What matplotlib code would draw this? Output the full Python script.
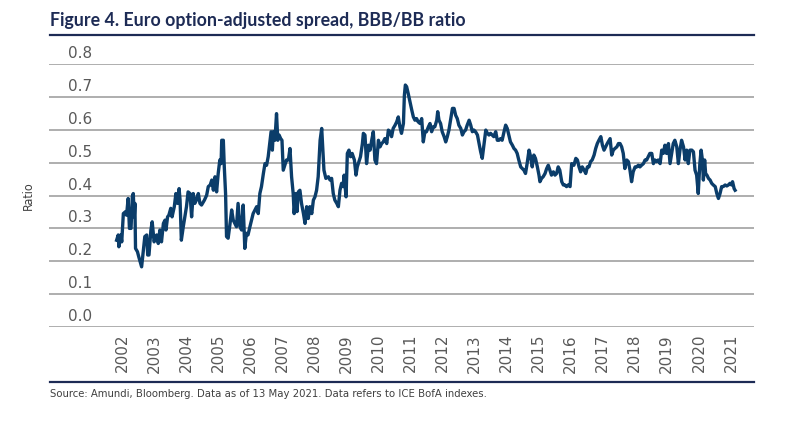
import matplotlib
matplotlib.use("Agg")
import matplotlib.pyplot as plt

# Euro OAS ratio BBB/BB (decimal years)
dates = [
    2002.00, 2002.05, 2002.07, 2002.13, 2002.16, 2002.21, 2002.28, 2002.31, 2002.36, 2002.40,
    2002.45, 2002.49, 2002.52, 2002.55, 2002.57, 2002.59, 2002.65, 2002.69, 2002.78, 2002.83,
    2002.88, 2002.94, 2002.97, 2003.01, 2003.07, 2003.11, 2003.17, 2003.25, 2003.30, 2003.35,
    2003.40, 2003.46, 2003.51, 2003.54, 2003.59, 2003.63, 2003.69, 2003.73, 2003.80, 2003.85,
    2003.90, 2003.95, 2003.98, 2004.02, 2004.08, 2004.13, 2004.18, 2004.23, 2004.29, 2004.34,
    2004.39, 2004.44, 2004.49, 2004.55, 2004.60, 2004.65, 2004.74, 2004.81, 2004.86, 2004.92,
    2004.97, 2005.02, 2005.07, 2005.12, 2005.17, 2005.22, 2005.26, 2005.28, 2005.33, 2005.36,
    2005.40, 2005.43, 2005.48, 2005.54, 2005.59, 2005.64, 2005.69, 2005.74, 2005.79, 2005.85,
    2005.90, 2005.95, 2006.00, 2006.05, 2006.10, 2006.16, 2006.26, 2006.37, 2006.42, 2006.47,
    2006.52, 2006.58, 2006.63, 2006.68, 2006.73, 2006.79, 2006.82, 2006.86, 2006.89, 2006.94,
    2006.99, 2007.03, 2007.07, 2007.12, 2007.16, 2007.20, 2007.25, 2007.30, 2007.36, 2007.41,
    2007.46, 2007.51, 2007.54, 2007.59, 2007.63, 2007.67, 2007.72, 2007.77, 2007.83, 2007.88,
    2007.93, 2007.98, 2008.03, 2008.09, 2008.14, 2008.19, 2008.24, 2008.29, 2008.35, 2008.40,
    2008.43, 2008.47, 2008.53, 2008.61, 2008.66, 2008.71, 2008.76, 2008.81, 2008.87, 2008.92,
    2008.97, 2009.02, 2009.07, 2009.10, 2009.16, 2009.20, 2009.25, 2009.30, 2009.35, 2009.42,
    2009.47, 2009.51, 2009.56, 2009.61, 2009.67, 2009.70, 2009.75, 2009.80, 2009.86, 2009.91,
    2009.96, 2010.01, 2010.06, 2010.11, 2010.17, 2010.22, 2010.27, 2010.32, 2010.37, 2010.43,
    2010.48, 2010.53, 2010.58, 2010.63, 2010.69, 2010.74, 2010.79, 2010.84, 2010.89, 2010.95,
    2010.98, 2011.01, 2011.05, 2011.10, 2011.21, 2011.26, 2011.31, 2011.36, 2011.41, 2011.47,
    2011.52, 2011.57, 2011.62, 2011.67, 2011.73, 2011.78, 2011.83, 2011.88, 2011.93, 2011.99,
    2012.02, 2012.06, 2012.11, 2012.16, 2012.22, 2012.27, 2012.32, 2012.37, 2012.42, 2012.48,
    2012.53, 2012.58, 2012.63, 2012.68, 2012.74, 2012.79, 2012.84, 2012.89, 2012.94, 2013.00,
    2013.05, 2013.10, 2013.15, 2013.20, 2013.26, 2013.31, 2013.36, 2013.41, 2013.46, 2013.52,
    2013.57, 2013.62, 2013.67, 2013.72, 2013.77, 2013.83, 2013.88, 2013.93, 2013.98, 2014.03,
    2014.09, 2014.14, 2014.19, 2014.24, 2014.29, 2014.35, 2014.40, 2014.45, 2014.50, 2014.55,
    2014.61, 2014.66, 2014.71, 2014.76, 2014.81, 2014.87, 2014.92, 2014.97, 2015.02, 2015.07,
    2015.13, 2015.18, 2015.21, 2015.26, 2015.31, 2015.37, 2015.42, 2015.47, 2015.52, 2015.57,
    2015.63, 2015.68, 2015.73, 2015.78, 2015.83, 2015.89, 2015.94, 2015.99, 2016.04, 2016.09,
    2016.15, 2016.20, 2016.27, 2016.33, 2016.38, 2016.43, 2016.48, 2016.53, 2016.59, 2016.64,
    2016.69, 2016.74, 2016.79, 2016.84, 2016.90, 2016.95, 2017.00, 2017.05, 2017.11, 2017.16,
    2017.21, 2017.26, 2017.31, 2017.37, 2017.40, 2017.45, 2017.50, 2017.55, 2017.61, 2017.66,
    2017.71, 2017.76, 2017.81, 2017.86, 2017.92, 2017.97, 2018.02, 2018.07, 2018.12, 2018.18,
    2018.23, 2018.28, 2018.33, 2018.38, 2018.44, 2018.49, 2018.54, 2018.59, 2018.64, 2018.70,
    2018.75, 2018.80, 2018.85, 2018.90, 2018.96, 2019.01, 2019.06, 2019.11, 2019.16, 2019.22,
    2019.27, 2019.32, 2019.37, 2019.42, 2019.48, 2019.53, 2019.58, 2019.63, 2019.69, 2019.74,
    2019.79, 2019.84, 2019.89, 2019.95, 2020.00, 2020.05, 2020.10, 2020.15, 2020.20, 2020.24,
    2020.28, 2020.31, 2020.35, 2020.38, 2020.42, 2020.47, 2020.52, 2020.57, 2020.62, 2020.68,
    2020.73, 2020.78, 2020.83, 2020.88, 2020.93, 2020.99, 2021.04, 2021.09, 2021.14, 2021.19,
    2021.22, 2021.27, 2021.30,
]
ratio = [
    0.264, 0.280, 0.244, 0.280, 0.259, 0.345, 0.351, 0.340, 0.391, 0.300,
    0.300, 0.396, 0.406, 0.335, 0.376, 0.239, 0.229, 0.214, 0.183, 0.229,
    0.275, 0.280, 0.219, 0.219, 0.295, 0.320, 0.259, 0.280, 0.254, 0.295,
    0.259, 0.315, 0.325, 0.295, 0.335, 0.340, 0.361, 0.335, 0.366, 0.406,
    0.376, 0.421, 0.386, 0.264, 0.305, 0.335, 0.366, 0.411, 0.406, 0.335,
    0.406, 0.376, 0.386, 0.406, 0.376, 0.371, 0.386, 0.401, 0.427, 0.432,
    0.447, 0.416, 0.457, 0.411, 0.467, 0.508, 0.497, 0.568, 0.568, 0.487,
    0.406, 0.275, 0.270, 0.315, 0.356, 0.325, 0.315, 0.305, 0.376, 0.305,
    0.295, 0.371, 0.239, 0.285, 0.280, 0.305, 0.345, 0.366, 0.345, 0.406,
    0.427, 0.467, 0.497, 0.492, 0.518, 0.568, 0.594, 0.538, 0.594, 0.568,
    0.649, 0.568, 0.584, 0.573, 0.568, 0.477, 0.492, 0.508, 0.508, 0.543,
    0.457, 0.406, 0.345, 0.406, 0.351, 0.411, 0.416, 0.376, 0.345, 0.315,
    0.366, 0.330, 0.366, 0.345, 0.386, 0.396, 0.416, 0.457, 0.568, 0.604,
    0.548, 0.477, 0.452, 0.457, 0.447, 0.452, 0.406, 0.386, 0.376, 0.366,
    0.416, 0.437, 0.427, 0.462, 0.396, 0.528, 0.538, 0.518, 0.528, 0.508,
    0.462, 0.487, 0.503, 0.518, 0.558, 0.589, 0.584, 0.497, 0.553, 0.538,
    0.568, 0.594, 0.508, 0.497, 0.568, 0.548, 0.558, 0.563, 0.573, 0.558,
    0.599, 0.594, 0.579, 0.604, 0.614, 0.624, 0.639, 0.609, 0.589, 0.619,
    0.705, 0.736, 0.731, 0.710, 0.660, 0.639, 0.629, 0.634, 0.624, 0.619,
    0.634, 0.563, 0.594, 0.594, 0.609, 0.619, 0.594, 0.609, 0.609, 0.629,
    0.655, 0.629, 0.619, 0.594, 0.579, 0.563, 0.579, 0.599, 0.629, 0.665,
    0.665, 0.644, 0.634, 0.614, 0.604, 0.584, 0.594, 0.599, 0.614, 0.629,
    0.614, 0.594, 0.599, 0.594, 0.584, 0.558, 0.533, 0.513, 0.553, 0.599,
    0.589, 0.584, 0.589, 0.584, 0.579, 0.594, 0.568, 0.568, 0.573, 0.568,
    0.594, 0.614, 0.604, 0.584, 0.563, 0.553, 0.543, 0.538, 0.528, 0.508,
    0.487, 0.482, 0.477, 0.467, 0.497, 0.538, 0.518, 0.487, 0.523, 0.513,
    0.487, 0.462, 0.442, 0.452, 0.457, 0.467, 0.482, 0.492, 0.477, 0.462,
    0.472, 0.462, 0.467, 0.487, 0.477, 0.442, 0.432, 0.432, 0.427, 0.432,
    0.427, 0.497, 0.492, 0.513, 0.508, 0.487, 0.472, 0.487, 0.477, 0.467,
    0.487, 0.487, 0.503, 0.508, 0.523, 0.543, 0.558, 0.568, 0.579, 0.553,
    0.538, 0.548, 0.558, 0.568, 0.573, 0.523, 0.538, 0.543, 0.548, 0.558,
    0.558, 0.548, 0.528, 0.482, 0.508, 0.503, 0.477, 0.442, 0.472, 0.487,
    0.487, 0.492, 0.487, 0.492, 0.497, 0.508, 0.508, 0.518, 0.528, 0.528,
    0.497, 0.508, 0.503, 0.508, 0.497, 0.538, 0.528, 0.553, 0.528, 0.558,
    0.497, 0.528, 0.558, 0.568, 0.548, 0.497, 0.538, 0.568, 0.548, 0.508,
    0.538, 0.497, 0.538, 0.538, 0.533, 0.477, 0.462, 0.406, 0.497, 0.538,
    0.508, 0.447, 0.508, 0.467, 0.462, 0.452, 0.447, 0.437, 0.432, 0.427,
    0.406, 0.391, 0.406, 0.427, 0.427, 0.432, 0.429, 0.432, 0.437, 0.432,
    0.442, 0.421, 0.416,
]
years = list(range(2002, 2022))
y_ticks = [0.0, 0.1, 0.2, 0.3, 0.4, 0.5, 0.6, 0.7, 0.8]

navy = "#1d2b55"
line_col = "#0b3d6a"
grid_col = "#a8a8a8"
label_col = "#595959"

fig = plt.figure(figsize=(8, 4.24), dpi=100)
ax = fig.add_axes([49 / 800, 97 / 424, 705 / 800, 263 / 424])

ax.plot(dates, ratio, color=line_col, lw=2.4, solid_joinstyle="round", zorder=3)

ax.set_xlim(1999.89, 2021.89)
ax.set_ylim(0, 0.8)
ax.set_yticks(y_ticks)
ax.yaxis.grid(True, color=grid_col, lw=1.3)
ax.tick_params(axis="y", length=0, labelleft=False)
for s in ax.spines.values():
    s.set_visible(False)

# y labels sit just above their gridlines
for v in y_ticks:
    ax.annotate("%.1f" % v, xy=(0, v), xycoords=("axes fraction", "data"),
                xytext=(19, 10.5), textcoords="offset pixels",
                ha="left", va="center", fontsize=11, color=label_col)

ax.set_xticks([y + 0.17 for y in years])
ax.set_xticklabels([str(y) for y in years], rotation=90, fontsize=11,
                   color=label_col, va="top", ha="center")
ax.tick_params(axis="x", length=0, pad=5)

ax.set_ylabel("Ratio", fontsize=9, color="#404040", stretch="condensed")
ax.yaxis.set_label_coords(-14 / 705, 0.5)

# title and rules
fig.text(50 / 800, 1 - 26 / 424, "Figure 4. Euro option-adjusted spread, BBB/BB ratio",
         fontsize=12.8, fontweight="bold", color=navy, va="baseline", ha="left",
         family=["Lato", "DejaVu Sans"])
fig.add_artist(plt.Line2D([50 / 800, 754 / 800], [1 - 35 / 424] * 2, color=navy, lw=1.6))
fig.add_artist(plt.Line2D([50 / 800, 754 / 800], [1 - 382 / 424] * 2, color=navy, lw=1.6))

fig.text(50 / 800, 1 - 394 / 424,
         "Source: Amundi, Bloomberg. Data as of 13 May 2021. Data refers to ICE BofA indexes.",
         fontsize=8.1, color="#404040", va="center", ha="left", stretch="condensed")

fig.savefig("out.png", dpi=100)
